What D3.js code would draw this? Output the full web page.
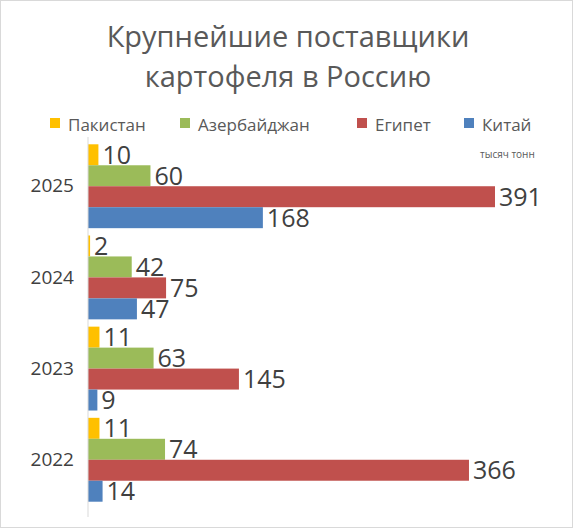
<!DOCTYPE html>
<html><head><meta charset="utf-8">
<script src="https://cdn.jsdelivr.net/npm/d3@7"></script>
<style>body{margin:0;background:#fff}</style></head>
<body><svg id="c" width="573" height="528"></svg>
<script>
const years = ["2025","2024","2023","2022"];
const seriesNames = ["Пакистан","Азербайджан","Египет","Китай"];
const seriesColors = ["#FFC000","#9BBB59","#C0504D","#4F81BD"];
const pakistan = [10,2,11,11];
const azerbaijan = [60,42,63,74];
const egypt = [391,75,145,366];
const china = [168,47,9,14];
const seriesValues = [pakistan, azerbaijan, egypt, china];

const svg = d3.select("#c");
const font = "'Open Sans', 'Noto Sans', sans-serif";
svg.append("rect").attr("x",0.5).attr("y",0.5).attr("width",572).attr("height",527)
  .attr("fill","#fff").attr("stroke","#d9d9d9");
svg.append("text").attr("x",288).attr("y",47).attr("text-anchor","middle")
  .attr("font-family",font).attr("font-size",29).attr("fill","#595959").text("Крупнейшие поставщики");
svg.append("text").attr("x",288).attr("y",87).attr("text-anchor","middle")
  .attr("font-family",font).attr("font-size",29).attr("fill","#595959").text("картофеля в Россию");

const legX = [50,180,357,464];
seriesNames.forEach((n,i)=>{
  svg.append("rect").attr("x",legX[i]).attr("y",118).attr("width",10).attr("height",10).attr("fill",seriesColors[i]);
  svg.append("text").attr("x",legX[i]+18).attr("y",131).attr("font-family",font).attr("font-size",17)
    .attr("fill","#595959").text(n);
});
svg.append("text").attr("x",480).attr("y",158).attr("font-family",font).attr("font-size",10)
  .attr("fill","#595959").text("тысяч тонн");

const x = d3.scaleLinear().domain([0,391]).range([88,495]);
const y = d3.scaleBand().domain(years).range([137,509]).padding(0.08);
const inner = d3.scaleBand().domain(d3.range(4)).range([0,y.bandwidth()]);

years.forEach((yr,yi)=>{
  seriesValues.forEach((vals,si)=>{
    const v = vals[yi];
    const yy = y(yr)+inner(si);
    svg.append("rect").attr("x",x(0)).attr("y",yy).attr("width",x(v)-x(0)).attr("height",inner.bandwidth())
      .attr("fill",seriesColors[si]);
    svg.append("text").attr("x",x(v)+4).attr("y",yy+inner.bandwidth()/2+9)
      .attr("font-family",font).attr("font-size",25).attr("fill","#404040").text(v);
  });
});
const ax = svg.append("g").attr("transform","translate(88,0)").call(d3.axisLeft(y).tickSize(0).tickPadding(14));
ax.select(".domain").attr("stroke","#d9d9d9").attr("d","M0,137V517");
ax.selectAll("text").attr("font-family",font).attr("font-size",19).attr("fill","#404040");
</script></body></html>
